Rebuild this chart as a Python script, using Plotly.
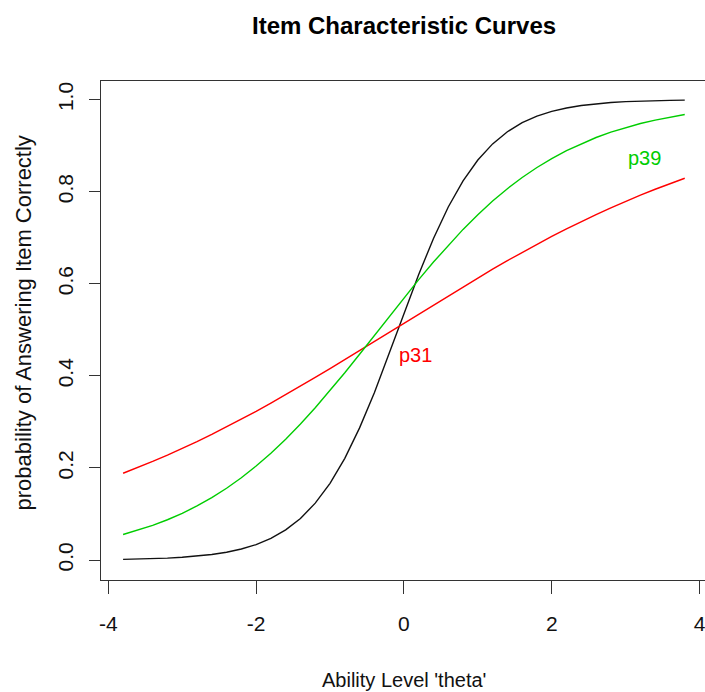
import plotly.graph_objects as go

# Ability levels (theta)
theta = [-3.8, -3.6, -3.4, -3.2, -3.0, -2.8, -2.6, -2.4, -2.2, -2.0,
         -1.8, -1.6, -1.4, -1.2, -1.0, -0.8, -0.6, -0.4, -0.2, 0.0,
         0.2, 0.4, 0.6, 0.8, 1.0, 1.2, 1.4, 1.6, 1.8, 2.0,
         2.2, 2.4, 2.6, 2.8, 3.0, 3.2, 3.4, 3.6, 3.8]

# black item curve (steep)
p_black = [0.0015, 0.0021, 0.0030, 0.0042, 0.0060, 0.0085, 0.0120, 0.0170, 0.0239, 0.0336,
           0.0470, 0.0654, 0.0903, 0.1235, 0.1666, 0.2209, 0.2870, 0.3635, 0.4477, 0.5349,
           0.6201, 0.6985, 0.7667, 0.8235, 0.8688, 0.9038, 0.9302, 0.9498, 0.9641, 0.9744,
           0.9818, 0.9871, 0.9909, 0.9936, 0.9955, 0.9968, 0.9977, 0.9984, 0.9989]

# p39 (green)
p39 = [0.0554, 0.0646, 0.0752, 0.0875, 0.1015, 0.1174, 0.1355, 0.1559, 0.1787, 0.2041,
       0.2320, 0.2625, 0.2954, 0.3307, 0.3679, 0.4068, 0.4470, 0.4878, 0.5287, 0.5693,
       0.6090, 0.6472, 0.6837, 0.7181, 0.7501, 0.7796, 0.8065, 0.8308, 0.8526, 0.8720,
       0.8893, 0.9044, 0.9177, 0.9293, 0.9393, 0.9480, 0.9555, 0.9620, 0.9676]

# p31 (red)
p31 = [0.1885, 0.2010, 0.2142, 0.2279, 0.2423, 0.2573, 0.2729, 0.2891, 0.3058, 0.3230,
       0.3407, 0.3589, 0.3775, 0.3965, 0.4158, 0.4354, 0.4551, 0.4750, 0.4950, 0.5150,
       0.5349, 0.5548, 0.5744, 0.5939, 0.6130, 0.6318, 0.6502, 0.6682, 0.6857, 0.7027,
       0.7191, 0.7350, 0.7503, 0.7649, 0.7790, 0.7925, 0.8053, 0.8176, 0.8292]

x_tickvals = [-4, -2, 0, 2, 4]
x_ticktext = ["-4", "-2", "0", "2", "4"]
y_tickvals = [0.0, 0.2, 0.4, 0.6, 0.8, 1.0]
y_ticktext = ["0.0", "0.2", "0.4", "0.6", "0.8", "1.0"]

label_p31 = (0.16, 0.445, "p31")
label_p39 = (3.25, 0.873, "p39")

FONT = "Liberation Sans, Arial, sans-serif"
RED = "#FF0000"
GREEN = "#00CD00"

fig = go.Figure()
fig.add_trace(go.Scatter(x=theta, y=p_black, mode="lines",
                         line=dict(color="#111111", width=1.4), showlegend=False))
fig.add_trace(go.Scatter(x=theta, y=p31, mode="lines",
                         line=dict(color=RED, width=1.4), showlegend=False))
fig.add_trace(go.Scatter(x=theta, y=p39, mode="lines",
                         line=dict(color=GREEN, width=1.4), showlegend=False))

L, T, B = 101, 81, 112
W, H = 705, 692
ph = H - T - B


def py(pix):
    return (H - B - pix) / ph


def px(pix):
    return (pix - L) / (W - L)


fig.update_layout(
    width=W, height=H,
    margin=dict(l=L, r=0, t=T, b=B, pad=0),
    paper_bgcolor="white", plot_bgcolor="white",
    font=dict(family=FONT, color="#111111"),
    showlegend=False,
    xaxis=dict(range=[-4.099, 4.074], tickvals=x_tickvals, ticktext=x_ticktext,
               showgrid=False, zeroline=False, showline=True, linecolor="#333333",
               linewidth=1, mirror=True, ticks="outside", ticklen=13, tickwidth=1,
               tickcolor="#333333", tickfont=dict(size=21, family=FONT, color="#111111"),
               ticklabelstandoff=12, ticklabeloverflow="allow"),
    yaxis=dict(range=[-0.0434, 1.0404], tickvals=y_tickvals, ticktext=y_ticktext,
               showgrid=False, zeroline=False, showline=True, linecolor="#333333",
               linewidth=1, mirror=False, ticks="outside", ticklen=11, tickwidth=1,
               tickcolor="#333333", tickangle=-90,
               tickfont=dict(size=21, family=FONT, color="#111111"),
               ticklabelstandoff=8, ticklabeloverflow="allow"),
    annotations=[
        dict(text="<b>Item Characteristic Curves</b>", xref="paper", yref="paper",
             x=px(403.5), y=py(25), xanchor="center", yanchor="middle", showarrow=False,
             font=dict(size=24, family=FONT, color="#000000")),
        dict(text="Ability Level 'theta'", xref="paper", yref="paper",
             x=px(403.5), y=py(680), xanchor="center", yanchor="middle", showarrow=False,
             font=dict(size=20, family=FONT, color="#111111")),
        dict(text="probability of Answering Item Correctly", xref="paper", yref="paper",
             x=px(23), y=py(323.5), xanchor="center", yanchor="middle", showarrow=False,
             textangle=-90, font=dict(size=22, family=FONT, color="#111111")),
        dict(text=label_p31[2], x=label_p31[0], y=label_p31[1], xref="x", yref="y",
             xanchor="center", yanchor="middle", showarrow=False,
             font=dict(size=20, family=FONT, color=RED)),
        dict(text=label_p39[2], x=label_p39[0], y=label_p39[1], xref="x", yref="y",
             xanchor="center", yanchor="middle", showarrow=False,
             font=dict(size=20, family=FONT, color=GREEN)),
    ],
)

fig.write_html("out.html")
